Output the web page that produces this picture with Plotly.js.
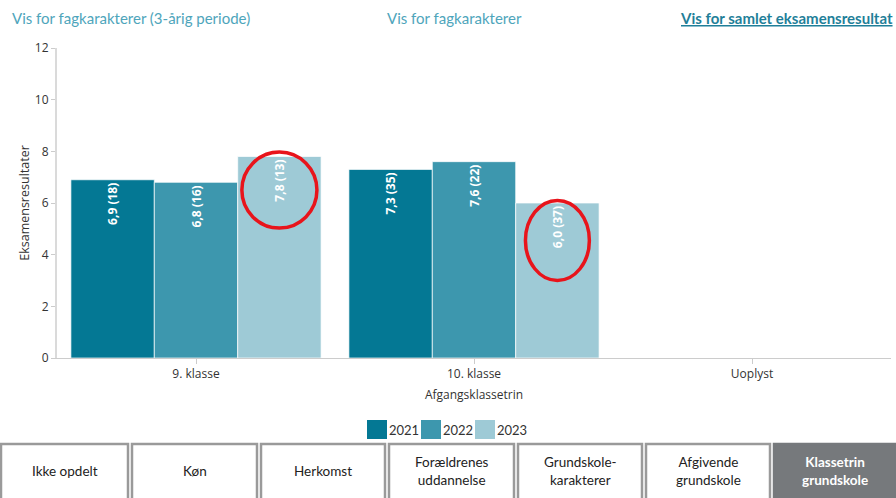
<!DOCTYPE html>
<html>
<head>
<meta charset="utf-8">
<script src="https://cdn.plot.ly/plotly-3.0.1.min.js"></script>
<style>
html,body{margin:0;padding:0;background:#fff;}
#chart{width:896px;height:498px;}
</style>
</head>
<body>
<div id="chart"></div>
<script>
// ---- data ----
const categories = ["9. klasse", "10. klasse", "Uoplyst"];
const seriesNames = ["2021", "2022", "2023"];
const values2021 = [6.9, 7.3, null];
const values2022 = [6.8, 7.6, null];
const values2023 = [7.8, 6.0, null];
const counts2021 = [18, 35, null];
const counts2022 = [16, 22, null];
const counts2023 = [13, 37, null];
const colors = ["#047894", "#3d97ae", "#9ecad6"];
const topLinks = ["Vis for fagkarakterer (3-årig periode)", "Vis for fagkarakterer", "Vis for samlet eksamensresultat"];
const buttonLabels = ["Ikke opdelt", "Køn", "Herkomst", "Forældrenes<br>uddannelse", "Grundskole-<br>karakterer", "Afgivende<br>grundskole", "Klassetrin<br>grundskole"];
// highlighted labels: [category index, series index]
const highlighted = [[0, 2], [1, 2]];

const allValues = [values2021, values2022, values2023];
const allCounts = [counts2021, counts2022, counts2023];

function fmt(v, n) {
  if (v === null) return "";
  return v.toFixed(1).replace(".", ",") + " (" + n + ")";
}

const traces = seriesNames.map((name, s) => ({
  type: "bar",
  name: name,
  x: categories,
  y: allValues[s],
  text: allValues[s].map((v, i) => fmt(v, allCounts[s][i])),
  textposition: "inside",
  insidetextanchor: "end",
  textangle: -90,
  textfont: {family: "Open Sans, sans-serif", size: 12, color: "#ffffff", weight: "bold"},
  marker: {color: colors[s], line: {color: "rgba(255,255,255,0.7)", width: 1}},
  hoverinfo: "skip",
  showlegend: false
}));

// Layout geometry helpers (plot area: x 57..891, y 48..358)
const L = 57, R = 5, T = 48, B = 140, W = 896, H = 498;
const pw = W - L - R, ph = H - T - B;
const px = x => (x - L) / pw;
const py = y => (T + ph - y) / ph;

const shapes = [];
const annotations = [];

// red ellipses around highlighted labels (data coords)
const groupW = 0.9, nS = seriesNames.length, barW = groupW / nS;
highlighted.forEach(([ci, si], k) => {
  const xc = ci - groupW / 2 + barW * (si + 0.5);
  const v = allValues[si][ci];
  const hw = k === 0 ? 0.135 : 0.115;
  const yc = k === 0 ? v - 1.3 : v - 1.45;
  const hh = k === 0 ? 1.47 : 1.55;
  shapes.push({type: "circle", xref: "x", yref: "y", x0: xc - hw, x1: xc + hw, y0: yc - hh, y1: yc + hh,
    line: {color: "#e8141b", width: 3.5}, layer: "above"});
});

// legend (swatch + label per series)
const legStart = 367, legStep = 54, sw = 20;
seriesNames.forEach((name, s) => {
  const x0 = legStart + s * legStep;
  shapes.push({type: "rect", xref: "paper", yref: "paper", x0: px(x0), x1: px(x0 + sw), y0: py(439), y1: py(420),
    line: {width: 0}, fillcolor: colors[s]});
  annotations.push({xref: "paper", yref: "paper", x: px(x0 + sw), y: py(430), xanchor: "left", yanchor: "middle",
    text: name, showarrow: false, font: {family: "Lato, sans-serif", size: 13, color: "#333333"}});
});

// top links
const linkX = [10, 385, 678];
topLinks.forEach((t, i) => {
  const bold = i === 2;
  annotations.push({
    xref: "paper", yref: "paper", x: px(linkX[i]), y: py(18), xanchor: "left", yanchor: "middle",
    text: bold ? "<b><u>" + t + "</u></b>" : t, showarrow: false,
    font: {family: "Lato, sans-serif", size: 15, color: bold ? "#1f7f99" : "#4ea5bb"}
  });
});

// bottom buttons
const btnEdges = [[0, 129], [131, 258], [260, 386], [388, 515], [517, 643], [645, 771], [773, 897]];
buttonLabels.forEach((t, i) => {
  const active = i === buttonLabels.length - 1;
  const [a, b] = btnEdges[i];
  shapes.push({type: "rect", xref: "paper", yref: "paper", x0: px(a + 1), x1: px(b - 1), y0: py(505), y1: py(444),
    line: {color: active ? "#76797c" : "#9a9a9a", width: 2.5}, fillcolor: active ? "#76797c" : "#ffffff", layer: "above"});
  annotations.push({
    xref: "paper", yref: "paper", x: px((a + b) / 2), y: py(471), xanchor: "center", yanchor: "middle",
    text: active ? "<b>" + t + "</b>" : t, showarrow: false,
    font: {family: "Lato, sans-serif", size: 13.5, color: active ? "#ffffff" : "#222222"}
  });
});

const layout = {
  width: W, height: H,
  margin: {l: L, r: R, t: T, b: B},
  paper_bgcolor: "#ffffff", plot_bgcolor: "#ffffff",
  barmode: "group", bargap: 0.1, bargroupgap: 0,
  font: {family: "Open Sans, sans-serif", color: "#333333"},
  showlegend: false,
  xaxis: {
    type: "category", categoryorder: "array", categoryarray: categories,
    showline: true, linecolor: "#cccccc", linewidth: 1,
    ticks: "outside", ticklen: 5, tickcolor: "#cccccc",
    tickfont: {family: "Open Sans, sans-serif", size: 12, color: "#333333"},
    title: {text: "Afgangsklassetrin", font: {family: "Open Sans, sans-serif", size: 12, color: "#333333"}, standoff: 9},
    fixedrange: true, automargin: false
  },
  yaxis: {
    range: [0, 12], dtick: 2, showgrid: false, zeroline: false,
    showline: true, linecolor: "#dadada", linewidth: 2,
    ticks: "outside", ticklen: 4, tickcolor: "#cccccc",
    tickfont: {family: "Open Sans, sans-serif", size: 12, color: "#333333"},
    title: {text: "Eksamensresultater", font: {family: "Open Sans, sans-serif", size: 12.5, color: "#333333"}, standoff: 2},
    fixedrange: true, automargin: false
  },
  shapes: shapes,
  annotations: annotations
};

Plotly.newPlot("chart", traces, layout, {displayModeBar: false, staticPlot: true});
</script>
</body>
</html>
